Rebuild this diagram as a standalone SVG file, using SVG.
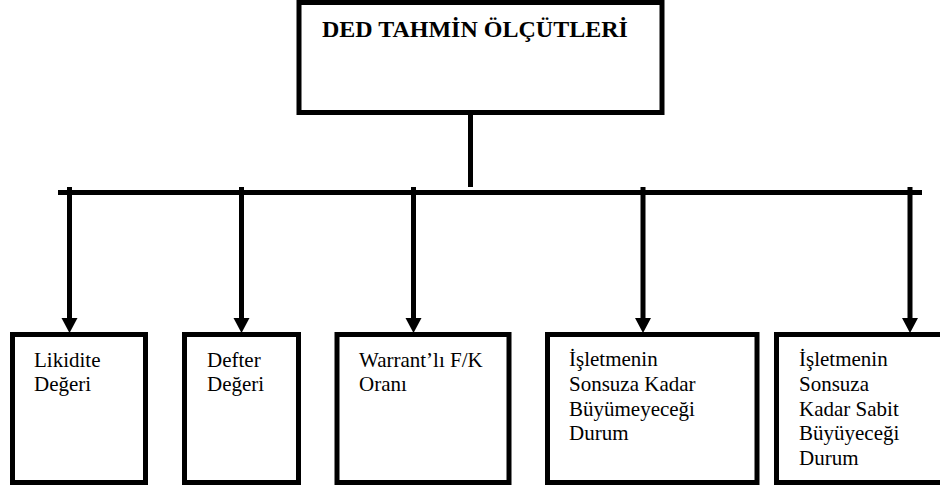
<svg xmlns="http://www.w3.org/2000/svg" width="940" height="488" viewBox="0 0 940 488">
<style>
.box{fill:#fff;stroke:#000;stroke-width:5}
.ln{stroke:#000;stroke-width:5;fill:none}
.ah{fill:#000}
.t{font-family:"Liberation Serif","Times New Roman",serif;font-size:21px;fill:#000}
.title{font-family:"Liberation Serif","Times New Roman",serif;font-size:24px;font-weight:bold;fill:#000}
</style>
<defs>
<path id="head" d="M-8,-15 L8,-15 L0,0 Z"/>
</defs>
<rect width="940" height="488" fill="#fff"/>
<g id="root">
<rect class="box" x="299" y="2.5" width="363" height="110"/>
<text class="title" x="322" y="37">DED TAHMİN ÖLÇÜTLERİ</text>
</g>
<g id="connectors">
<line class="ln" x1="470.5" y1="112" x2="470.5" y2="187"/>
<line class="ln" x1="58" y1="192.5" x2="922" y2="192.5"/>
<line class="ln" x1="69.5" y1="187" x2="69.5" y2="320"/>
<line class="ln" x1="241.5" y1="187" x2="241.5" y2="320"/>
<line class="ln" x1="413.5" y1="187" x2="413.5" y2="320"/>
<line class="ln" x1="643" y1="187" x2="643" y2="320"/>
<line class="ln" x1="910" y1="187" x2="910" y2="320"/>
<use href="#head" class="ah" x="69.5" y="333"/>
<use href="#head" class="ah" x="241.5" y="333"/>
<use href="#head" class="ah" x="413.5" y="333"/>
<use href="#head" class="ah" x="643" y="333"/>
<use href="#head" class="ah" x="910" y="333"/>
</g>
<g id="n1">
<rect class="box" x="12.5" y="334.5" width="133" height="148"/>
<text class="t" x="34" y="367">Likidite</text>
<text class="t" x="34" y="391">Değeri</text>
</g>
<g id="n2">
<rect class="box" x="184.5" y="334.5" width="114" height="148"/>
<text class="t" x="207" y="367">Defter</text>
<text class="t" x="207" y="391">Değeri</text>
</g>
<g id="n3">
<rect class="box" x="337" y="334.5" width="172" height="148"/>
<text class="t" x="359" y="367">Warrant’lı F/K</text>
<text class="t" x="359" y="391">Oranı</text>
</g>
<g id="n4">
<rect class="box" x="547.5" y="334.5" width="209.5" height="148"/>
<text class="t" x="569" y="366">İşletmenin</text>
<text class="t" x="569" y="391">Sonsuza Kadar</text>
<text class="t" x="569" y="416">Büyümeyeceği</text>
<text class="t" x="569" y="440">Durum</text>
</g>
<g id="n5">
<rect class="box" x="776.5" y="334.5" width="170" height="148"/>
<text class="t" x="799" y="366">İşletmenin</text>
<text class="t" x="799" y="391">Sonsuza</text>
<text class="t" x="799" y="416">Kadar Sabit</text>
<text class="t" x="799" y="440">Büyüyeceği</text>
<text class="t" x="799" y="465">Durum</text>
</g>
</svg>
